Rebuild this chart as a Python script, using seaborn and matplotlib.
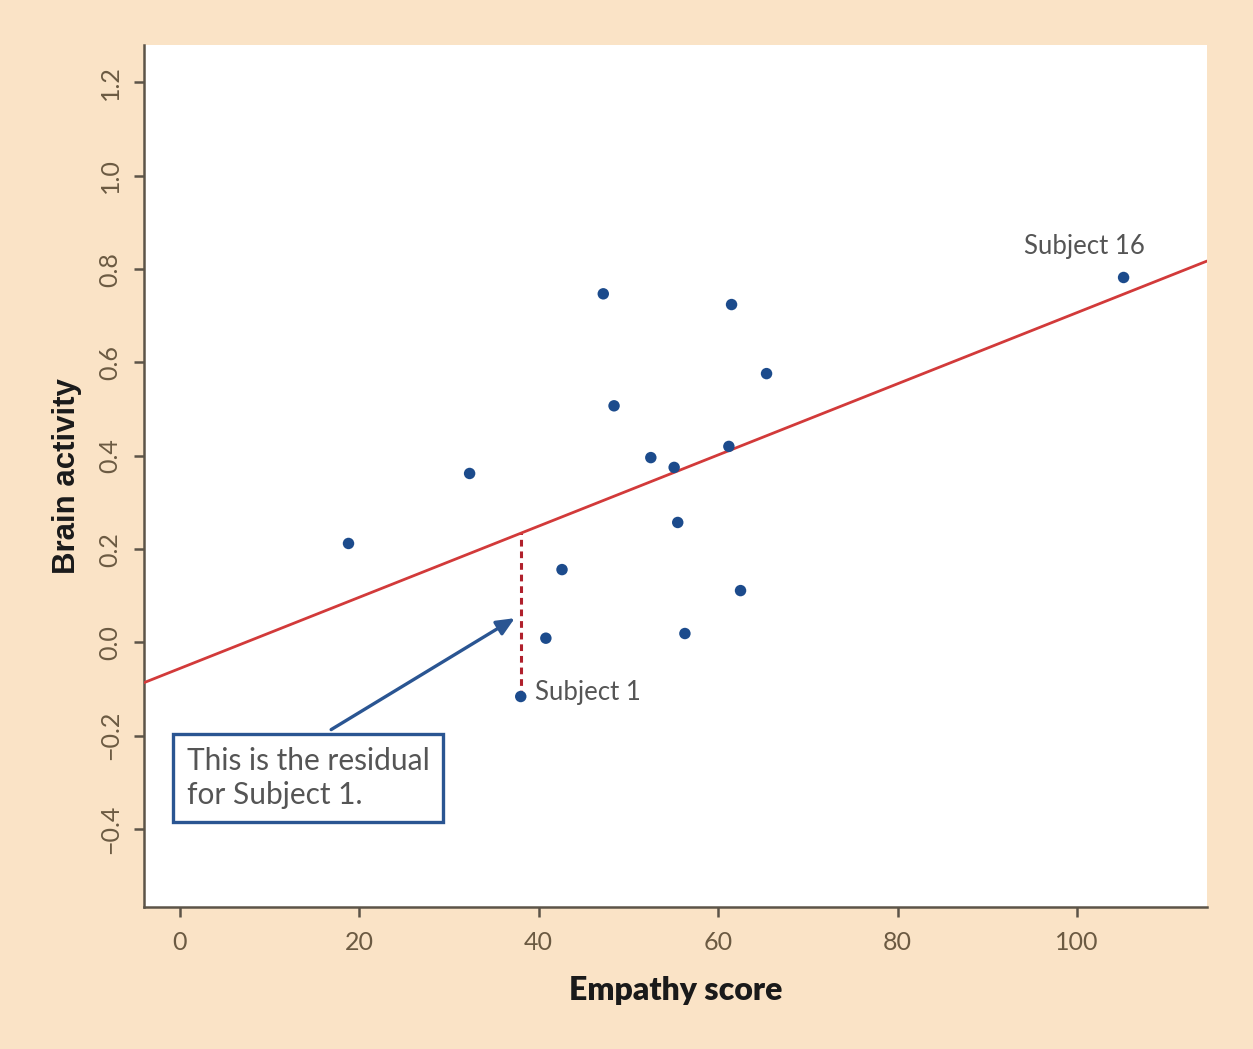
import numpy as np
import pandas as pd
import matplotlib
matplotlib.use("Agg")
import matplotlib.pyplot as plt
import seaborn as sns

# ---- data ----
empathy = [18.8, 32.3, 38.0, 40.8, 42.6, 47.2, 48.4, 52.5, 55.1, 55.5, 56.3, 61.2, 61.5, 62.5, 65.4, 105.2]
brain = [0.212, 0.362, -0.116, 0.009, 0.156, 0.747, 0.507, 0.396, 0.375, 0.257, 0.019, 0.420, 0.724, 0.111, 0.576, 0.782]
subject_labels = ["Subject 1", "Subject 16"]
subject_idx = [2, 15]
x_ticks = [0, 20, 40, 60, 80, 100]
y_ticks = [-0.4, -0.2, 0.0, 0.2, 0.4, 0.6, 0.8, 1.0, 1.2]

df = pd.DataFrame({"Empathy score": empathy, "Brain activity": brain})

sns.set_theme(style="white")
plt.rcParams['font.family'] = ['Lato', 'DejaVu Sans']

bg = "#FAE3C6"
fig = plt.figure(figsize=(12.53, 10.49), dpi=100, facecolor=bg)
ax = fig.add_axes([0.1149, 0.1354, 0.8484, 0.8216])
ax.set_facecolor("white")
ax.set_xlim(-4, 114.5)
ax.set_ylim(-0.567, 1.28)

sns.regplot(data=df, x="Empathy score", y="Brain activity", ax=ax, ci=None, truncate=False,
            scatter_kws=dict(s=68, color="#1c4b8c", edgecolor="none", alpha=1, zorder=4),
            line_kws=dict(color="#d23a3a", lw=2.0, zorder=3))
ax.set_xlim(-4, 114.5)
ax.set_ylim(-0.567, 1.28)

# residual for subject 1
slope, intercept = np.polyfit(empathy, brain, 1)
i1 = subject_idx[0]
fitted = intercept + slope * empathy[i1]
ax.vlines(empathy[i1], brain[i1], fitted, colors="#b0202c", linestyles=(0, (2.2, 1.6)), lw=2.2, zorder=2)

# subject labels
ax.text(empathy[i1] + 1.6, brain[i1] + 0.008, subject_labels[0], fontsize=18.5, color="#555555",
        va="center", ha="left", zorder=5)
ax.text(empathy[subject_idx[1]] - 4.4, brain[subject_idx[1]] + 0.066, subject_labels[1], fontsize=18.5,
        color="#555555", va="center", ha="center", zorder=5)

# annotation box + arrow
ax.annotate("", xy=(37.6, 0.055), xytext=(16.6, -0.19),
            arrowprops=dict(arrowstyle="-|>,head_length=0.9,head_width=0.4", color="#2a5592", lw=2.4),
            zorder=5)
ax.text(0.75, -0.291, "This is the residual\nfor Subject 1.", fontsize=21.5, color="#555555",
        va="center", ha="left", linespacing=1.25, zorder=6,
        bbox=dict(boxstyle="square,pad=0.45", facecolor="white", edgecolor="#2a5592", lw=2.4))

# axes styling
for s in ["top", "right"]:
    ax.spines[s].set_visible(False)
for s in ["left", "bottom"]:
    ax.spines[s].set_color("#5c5448")
    ax.spines[s].set_linewidth(1.8)

ax.set_xticks(x_ticks)
ax.set_xticklabels([str(t) for t in x_ticks])
ax.set_yticks(y_ticks)
ax.set_yticklabels([f"{t:.1f}".replace("-", "\u2212") for t in y_ticks], rotation=90, va="center")
ax.tick_params(axis="both", which="major", direction="out", length=7, width=1.8,
               color="#5c5448", labelcolor="#6b5a42", labelsize=18,
               bottom=True, left=True)
ax.tick_params(axis="x", pad=10)
ax.tick_params(axis="y", pad=9)

ax.set_xlabel("Empathy score", fontsize=23, fontweight="heavy", color="#1a1a1a", labelpad=16)
ax.set_ylabel("Brain activity", fontsize=22.5, fontweight="bold", color="#1a1a1a", labelpad=12,
              family=["Liberation Sans", "DejaVu Sans"])

fig.savefig("out.png", dpi=100, facecolor=bg)
